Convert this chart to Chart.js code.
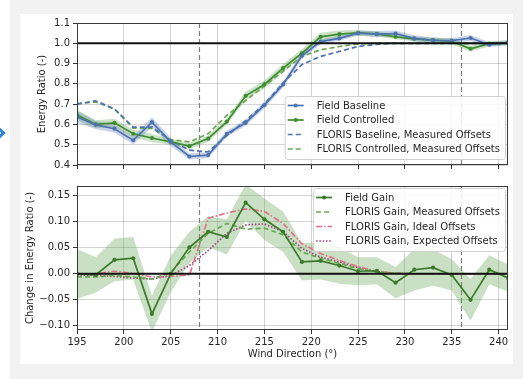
<!DOCTYPE html>
<html>
<head>
<meta charset="utf-8">
<script src="https://cdn.jsdelivr.net/npm/chart.js@4.4.1/dist/chart.umd.min.js"></script>
<style>
body { margin: 0; width: 523px; height: 379px; overflow: hidden; position: relative; background: #fff; }
.back { position: absolute; left: 10px; top: 0; width: 513px; height: 379px; background: #f2f2f2; }
.card { position: absolute; left: 20px; top: 14px; width: 493px; height: 350px; background: #fff; }
.arrow { position: absolute; left: -9px; top: 127px; width: 9px; height: 9px; border-top: 3px solid #2f86d6; border-right: 3px solid #2f86d6; transform: rotate(45deg); }
.plot { position: absolute; left: 20px; }
#top { top: 14px; }
#bottom { top: 176px; }
</style>
</head>
<body>
<div class="back"></div>
<div class="card"></div>
<div class="arrow"></div>
<canvas id="top" class="plot" width="493" height="160"></canvas>
<canvas id="bottom" class="plot" width="493" height="188"></canvas>
<script>
// wind directions (deg)
const directions = [195, 197, 199, 201, 203, 205, 207, 209, 211, 213, 215, 217,
                    219, 221, 223, 225, 227, 229, 231, 233, 235, 237, 239, 241];
const dirTicks = [195, 200, 205, 210, 215, 220, 225, 230, 235, 240];
const ratioTicks = [0.4, 0.5, 0.6, 0.7, 0.8, 0.9, 1.0, 1.1];
const gainTicks = [-0.10, -0.05, 0.00, 0.05, 0.10, 0.15];
const markerDirs = [208, 236];

// energy ratio
const fieldBaseline = [0.638, 0.598, 0.579, 0.522, 0.611, 0.514, 0.442, 0.449, 0.554, 0.608, 0.695, 0.797,
                       0.938, 1.008, 1.024, 1.050, 1.045, 1.048, 1.024, 1.014, 1.013, 1.026, 0.993, 1.003];
const fieldBaselineBand = [0.030, 0.020, 0.020, 0.020, 0.025, 0.020, 0.015, 0.015, 0.015, 0.015, 0.015, 0.015,
                           0.015, 0.012, 0.012, 0.012, 0.015, 0.015, 0.015, 0.015, 0.012, 0.015, 0.012, 0.012];
const fieldControlled = [0.647, 0.601, 0.608, 0.554, 0.533, 0.514, 0.493, 0.530, 0.614, 0.741, 0.797, 0.878,
                         0.951, 1.032, 1.045, 1.052, 1.046, 1.032, 1.022, 1.016, 1.010, 0.973, 0.998, 1.003];
const fieldControlledBand = [0.025, 0.020, 0.020, 0.020, 0.020, 0.015, 0.015, 0.015, 0.015, 0.020, 0.020, 0.020,
                             0.020, 0.020, 0.018, 0.015, 0.012, 0.012, 0.012, 0.012, 0.015, 0.015, 0.012, 0.012];
const florisBaseline = [0.700, 0.716, 0.676, 0.587, 0.587, 0.522, 0.473, 0.465, 0.545, 0.618, 0.700, 0.805,
                        0.895, 0.935, 0.960, 0.984, 0.995, 1.000, 1.000, 1.000, 1.000, 1.000, 1.000, 1.000];
const florisControlled = [0.703, 0.711, 0.676, 0.582, 0.580, 0.525, 0.514, 0.554, 0.645, 0.718, 0.790, 0.862,
                          0.935, 0.968, 0.984, 0.997, 1.000, 1.000, 1.000, 1.000, 1.000, 1.000, 1.000, 1.000];

// change in energy ratio
const fieldGain = [0.000, -0.002, 0.027, 0.030, -0.077, 0.000, 0.051, 0.081, 0.071, 0.137, 0.105, 0.081,
                   0.023, 0.025, 0.016, 0.005, 0.006, -0.017, 0.008, 0.012, -0.002, -0.050, 0.008, -0.008];
const fieldGainBand = [0.048, 0.034, 0.041, 0.041, 0.035, 0.035, 0.030, 0.030, 0.034, 0.035, 0.040, 0.039,
                       0.036, 0.036, 0.035, 0.027, 0.026, 0.030, 0.040, 0.035, 0.030, 0.040, 0.028, 0.026];
const florisGainMeasured = [-0.006, -0.006, -0.003, -0.006, -0.010, 0.003, 0.042, 0.078, 0.097, 0.086, 0.088, 0.075,
                            0.042, 0.030, 0.020, 0.010, 0.004, 0.001, 0.000, 0.000, 0.000, 0.000, 0.000, 0.000];
const florisGainIdeal = [0.000, 0.000, 0.005, 0.001, -0.006, -0.005, -0.002, 0.107, 0.117, 0.125, 0.120, 0.097,
                         0.058, 0.039, 0.026, 0.014, 0.005, 0.001, 0.000, 0.000, 0.000, 0.000, 0.000, 0.000];
const florisGainExpected = [-0.002, -0.003, -0.005, -0.008, -0.010, -0.003, 0.016, 0.045, 0.078, 0.094, 0.096, 0.081,
                            0.049, 0.032, 0.023, 0.012, 0.004, 0.001, 0.000, 0.000, 0.000, 0.000, 0.000, 0.000];

const blue = '#4c72b0';
const green = '#3f8b31';
const lightGreen = '#68aa52';
const gainGreen = '#3b7a2b';
const pink = '#e0738a';
const purple = '#9c3f7c';

Chart.defaults.font.family = '"DejaVu Sans", sans-serif';
Chart.defaults.font.size = 10;
Chart.defaults.color = '#262626';

function pts(ys) {
  return directions.map((x, i) => ({x: x, y: ys[i]}));
}
function edge(ys, err, sign) {
  return directions.map((x, i) => ({x: x, y: ys[i] + sign * err[i]}));
}
function solid(label, ys, color) {
  return {label: label, data: pts(ys), borderColor: color, backgroundColor: color,
          borderWidth: 1.7, pointRadius: 2.1, pointBorderWidth: 0, fill: false};
}
function dashed(label, ys, color, dash) {
  return {label: label, data: pts(ys), borderColor: color, borderWidth: 1.7,
          borderDash: dash, pointRadius: 0, fill: false};
}
function bandPair(ys, err, color) {
  return [
    {data: edge(ys, err, 1), borderWidth: 0, pointRadius: 0, fill: false},
    {data: edge(ys, err, -1), borderWidth: 0, pointRadius: 0, fill: '-1', backgroundColor: color}
  ];
}

// dashed markers, reference level, frame and boxed legend
const decorations = {
  id: 'decorations',
  beforeDatasetsDraw(chart) {
    const {ctx, chartArea: a, scales: {x}} = chart;
    ctx.save();
    ctx.strokeStyle = '#808080';
    ctx.lineWidth = 1.2;
    ctx.setLineDash([5, 3]);
    markerDirs.forEach(d => {
      const px = Math.round(x.getPixelForValue(d)) + 0.5;
      ctx.beginPath();
      ctx.moveTo(px, a.top);
      ctx.lineTo(px, a.bottom);
      ctx.stroke();
    });
    ctx.restore();
  },
  afterDatasetsDraw(chart, args, opts) {
    const {ctx, chartArea: a, scales: {y}} = chart;
    ctx.save();
    const py = y.getPixelForValue(opts.level);
    ctx.strokeStyle = '#111';
    ctx.lineWidth = 2;
    ctx.beginPath();
    ctx.moveTo(a.left, py);
    ctx.lineTo(a.right, py);
    ctx.stroke();

    ctx.strokeStyle = '#3a3a3a';
    ctx.lineWidth = 1;
    ctx.strokeRect(a.left + 0.5, a.top + 0.5, a.right - a.left - 1, a.bottom - a.top - 1);

    // legend
    const items = chart.data.datasets.filter(ds => ds.label);
    ctx.font = '10px "DejaVu Sans"';
    const textW = Math.max(...items.map(ds => ctx.measureText(ds.label).width));
    const rowH = 14.5;
    const w = 3 + 16 + 13 + textW + 5;
    const h = items.length * rowH + 5;
    const bx = a.right - 3 - w;
    const by = opts.anchor === 'top' ? a.top + 2 : a.bottom - 6 - h;
    ctx.fillStyle = 'rgba(255,255,255,0.85)';
    ctx.strokeStyle = '#d0d0d0';
    ctx.beginPath();
    ctx.roundRect(bx + 0.5, by + 0.5, w, h, 3);
    ctx.fill();
    ctx.stroke();
    items.forEach((ds, i) => {
      const cy = by + 9.5 + i * rowH;
      const sx = bx + 3;
      ctx.strokeStyle = ds.borderColor;
      ctx.lineWidth = ds.borderWidth;
      ctx.setLineDash(ds.borderDash || []);
      ctx.beginPath();
      ctx.moveTo(sx, cy);
      ctx.lineTo(sx + 16, cy);
      ctx.stroke();
      ctx.setLineDash([]);
      if (ds.pointRadius) {
        ctx.fillStyle = ds.borderColor;
        ctx.beginPath();
        ctx.arc(sx + 8, cy, ds.pointRadius, 0, Math.PI * 2);
        ctx.fill();
      }
      ctx.fillStyle = '#262626';
      ctx.textBaseline = 'middle';
      ctx.fillText(ds.label, sx + 29, cy + 0.5);
    });
    ctx.restore();
  }
};

function axes(yMin, yMax, yTicks, yFmt, yTitle, titlePad, showX, xHeight) {
  const grid = {color: 'rgba(0,0,0,0.17)', tickColor: '#333', tickLength: 4, lineWidth: 1};
  return {
    x: {
      type: 'linear', min: 195, max: 241,
      afterBuildTicks: s => { s.ticks = dirTicks.map(v => ({value: v})); },
      afterFit: s => { s.height = xHeight; },
      grid: grid, border: {display: false},
      ticks: {display: showX, padding: 2, callback: v => String(v), maxRotation: 0},
      title: {display: showX, text: 'Wind Direction (°)', padding: {top: 0, bottom: 4}}
    },
    y: {
      min: yMin, max: yMax,
      afterBuildTicks: s => { s.ticks = yTicks.map(v => ({value: v})); },
      afterFit: s => { s.width = 57; },
      grid: grid, border: {display: false},
      ticks: {padding: 3, callback: yFmt},
      title: {display: true, text: yTitle, padding: {top: titlePad, bottom: 0}}
    }
  };
}

new Chart(document.getElementById('top'), {
  type: 'line',
  data: {
    datasets: [
      solid('Field Baseline', fieldBaseline, blue),
      solid('Field Controlled', fieldControlled, green),
      dashed('FLORIS Baseline, Measured Offsets', florisBaseline, blue, [5, 3]),
      dashed('FLORIS Controlled, Measured Offsets', florisControlled, lightGreen, [5, 3]),
      ...bandPair(fieldBaseline, fieldBaselineBand, 'rgba(76,114,176,0.3)'),
      ...bandPair(fieldControlled, fieldControlledBand, 'rgba(85,160,70,0.3)')
    ]
  },
  options: {
    responsive: false, animation: false, devicePixelRatio: 1,
    layout: {padding: {top: 8, right: 5, left: 0, bottom: 0}},
    scales: axes(0.4, 1.1, ratioTicks, v => v.toFixed(1), 'Energy Ratio (-)', 16.5, false, 8),
    plugins: {legend: {display: false}, tooltip: {enabled: false},
              decorations: {level: 1.0, anchor: 'bottom'}}
  },
  plugins: [decorations]
});

new Chart(document.getElementById('bottom'), {
  type: 'line',
  data: {
    datasets: [
      solid('Field Gain', fieldGain, gainGreen),
      dashed('FLORIS Gain, Measured Offsets', florisGainMeasured, lightGreen, [5, 3]),
      dashed('FLORIS Gain, Ideal Offsets', florisGainIdeal, pink, [6, 2, 1.5, 2]),
      dashed('FLORIS Gain, Expected Offsets', florisGainExpected, purple, [1.5, 1.8]),
      ...bandPair(fieldGain, fieldGainBand, 'rgba(90,160,75,0.33)')
    ]
  },
  options: {
    responsive: false, animation: false, devicePixelRatio: 1,
    layout: {padding: {top: 10, right: 5, left: 0, bottom: 0}},
    scales: axes(-0.108, 0.169, gainTicks, v => v.toFixed(2).replace('-', '\u2212'),
                 'Change in Energy Ratio (-)', 4, true, 34),
    plugins: {legend: {display: false}, tooltip: {enabled: false},
              decorations: {level: 0, anchor: 'top'}}
  },
  plugins: [decorations]
});
</script>
</body>
</html>
